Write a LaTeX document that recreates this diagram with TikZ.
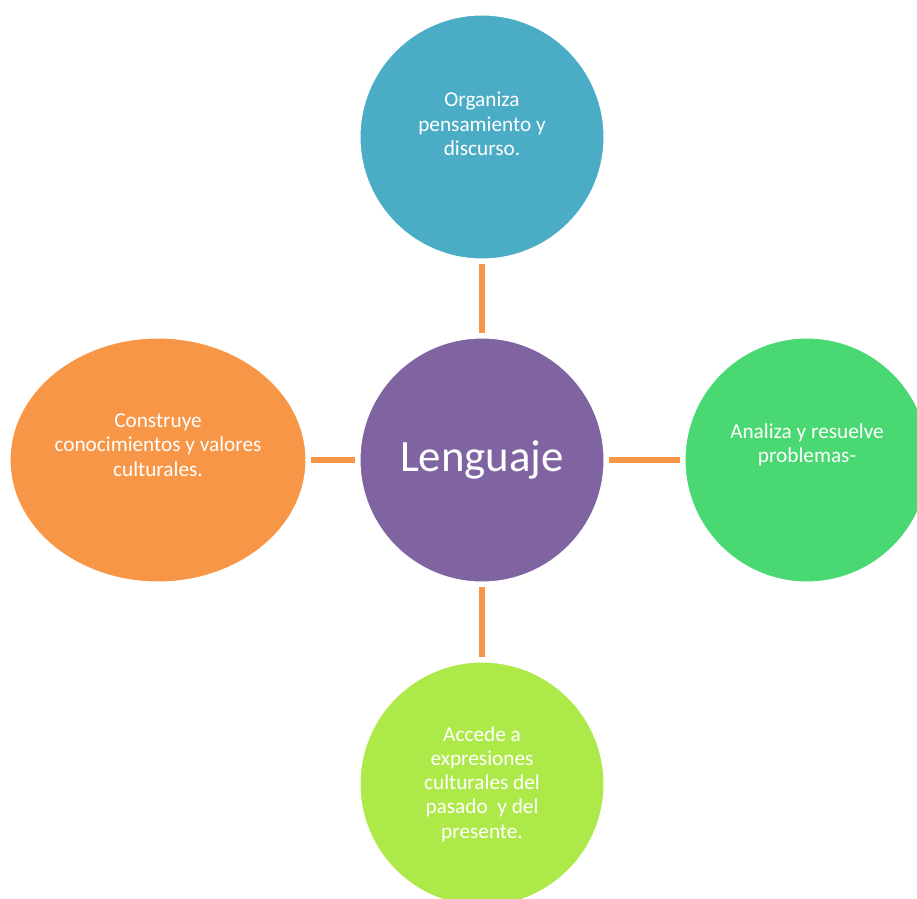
\documentclass[tikz,border=0pt]{standalone}
\usepackage{fontspec}
\setmainfont{Carlito}
\usepackage{xcolor}
\usetikzlibrary{positioning,shapes.geometric}
\definecolor{topcolor}{RGB}{75, 172, 198}
\definecolor{centercolor}{RGB}{128, 100, 162}
\definecolor{rightcolor}{RGB}{74, 216, 114}
\definecolor{bottomcolor}{RGB}{174, 233, 74}
\definecolor{leftcolor}{RGB}{247, 150, 70}
\definecolor{linkcolor}{RGB}{247, 150, 70}
\tikzset{
    bubble/.style={circle, draw=white, line width=0.6pt, minimum size=4.88cm, inner sep=0pt, text=white},
    center bubble/.style={bubble, fill=centercolor, font=\fontsize{25.5}{30}\selectfont},
    top bubble/.style={bubble, fill=topcolor},
    right bubble/.style={bubble, fill=rightcolor},
    bottom bubble/.style={bubble, fill=bottomcolor},
    left bubble/.style={ellipse, draw=white, line width=0.6pt, minimum width=5.92cm, minimum height=4.88cm, inner sep=0pt, fill=leftcolor},
    bubble text/.style={text=white, align=center, font=\fontsize{12.1}{13.8}\selectfont},
    link/.style={line width=3.1pt, linkcolor, shorten <=0.08cm, shorten >=0.08cm}
}

\begin{document}
\begin{tikzpicture}
    \clip (0,0) rectangle (18.34,-17.96);
    \useasboundingbox (0,0) rectangle (18.34,-17.96);

    % Center
    \node[center bubble] (lang) at (9.64,-9.2) {Lenguaje};

    % Surrounding bubbles
    \node[top bubble, label={[bubble text, yshift=0.26cm]center:{Organiza\\pensamiento y\\discurso.}}] (think) at (9.64,-2.74) {};
    \node[right bubble, label={[bubble text, yshift=0.3cm]center:{Analiza y resuelve\\problemas-}}] (solve) at (16.14,-9.2) {};
    \node[bottom bubble, label={[bubble text]center:{Accede a\\expresiones\\culturales del\\pasado\ \ y del\\presente.}}] (access) at (9.64,-15.68) {};
    \node[left bubble, label={[bubble text, yshift=0.3cm]center:{Construye\\conocimientos y valores\\culturales.}}] (build) at (3.16,-9.2) {};

    % Links
    \draw[link] (think) -- (lang);
    \draw[link] (lang) -- (solve);
    \draw[link] (lang) -- (access);
    \draw[link] (build) -- (lang);
\end{tikzpicture}
\end{document}
